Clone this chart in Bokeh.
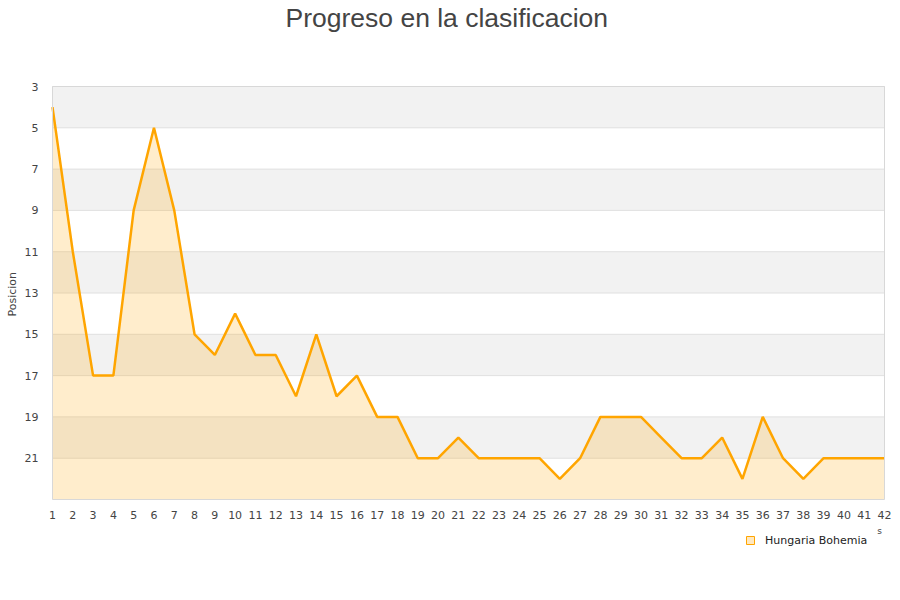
from bokeh.plotting import figure
from bokeh.models import Range1d, FixedTicker, Legend, LegendItem, Title, Label
from bokeh.embed import file_html
from bokeh.resources import INLINE

# jornadas y posicion en la tabla
jornadas = list(range(1, 43))
posicion = [4, 11, 17, 17, 9, 5, 9, 15, 16, 14,
            16, 16, 18, 15, 18, 17, 19, 19, 21, 21,
            20, 21, 21, 21, 21, 22, 21, 19, 19, 19,
            20, 21, 21, 20, 22, 19, 21, 22, 21, 21,
            21, 21]
equipo = "Hungaria Bohemia"
titulo = "Progreso en la clasificacion"
eje_y = "Posicion"
y_ticks = [3, 5, 7, 9, 11, 13, 15, 17, 19, 21]
y_top, y_bot = 3, 23

ORANGE = "#FFA500"
TEXT = "#444444"
BORDER = "#D8D8D8"

# zona de datos en pixeles; el marco se alarga para que quepan
# las etiquetas del eje x y la leyenda
PLOT_W, PLOT_H = 832, 413
PAD_L, PAD_R, PAD_T, PAD_B = 5, 8, 1, 60
ux = (jornadas[-1] - jornadas[0]) / PLOT_W
uy = (y_bot - y_top) / PLOT_H
FW, FH = PLOT_W + PAD_L + PAD_R, PLOT_H + PAD_T + PAD_B

p = figure(frame_width=FW, frame_height=FH, output_backend="svg",
           toolbar_location=None,
           x_range=Range1d(jornadas[0] - PAD_L * ux, jornadas[-1] + PAD_R * ux),
           y_range=Range1d(y_bot + PAD_B * uy, y_top - PAD_T * uy))
p.min_border_top = 0
p.min_border_left = 0
p.min_border_right = 4
p.min_border_bottom = 0
p.outline_line_color = None

# bandas grises alternas (3-5, 7-9, ...)
band_mid = [t + 1 for t in y_ticks[::2]]
p.hbar(y=band_mid, height=2, left=jornadas[0], right=jornadas[-1],
       fill_color="#F2F2F2", line_color="#E0E0E0", line_width=1)

p.varea(x=jornadas, y1=posicion, y2=y_bot, fill_color=ORANGE, fill_alpha=0.2)
p.line(jornadas, posicion, line_color=ORANGE, line_width=2.5)
p.quad(left=[jornadas[0]], right=[jornadas[-1]], top=[y_top], bottom=[y_bot],
       fill_color=None, line_color=BORDER, line_width=1)
# solo para la muestra de la leyenda (tamano 0 en el grafico)
muestra = p.scatter(x=jornadas[:1], y=posicion[:1], marker="square", size=0,
                    fill_color=ORANGE, fill_alpha=0.25, line_color=ORANGE,
                    line_width=1)

p.xgrid.grid_line_color = None
p.ygrid.grid_line_color = None

p.xaxis.ticker = FixedTicker(ticks=jornadas)
p.xaxis.fixed_location = y_bot
p.yaxis.ticker = FixedTicker(ticks=y_ticks)
for ax in (p.xaxis, p.yaxis):
    ax.major_tick_line_color = None
    ax.minor_tick_line_color = None
    ax.axis_line_color = None
    ax.major_label_text_font = "DejaVu Sans"
    ax.major_label_text_font_size = "11px"
    ax.major_label_text_color = TEXT
p.yaxis.major_label_standoff = 3
p.xaxis.major_label_standoff = 5

# titulo del eje y, centrado sobre la zona de datos
p.add_layout(Title(text=eje_y, align="left", offset=PAD_B + PLOT_H // 2 - 23,
                   standoff=6, text_font="DejaVu Sans", text_font_size="11px",
                   text_font_style="normal", text_color=TEXT), "left")

# espacio entre titulo y grafico, luego el titulo
p.add_layout(Title(text=" ", text_font_size="2px", standoff=49), "above")
p.add_layout(Title(text=titulo, align="left", offset=238, standoff=0,
                   text_font="Liberation Sans", text_font_size="26.5px",
                   text_font_style="normal", text_color=TEXT), "above")

# resto del titulo del eje x, cortado en el original
p.add_layout(Label(x=FW - PAD_R - 5, y=29, x_units="screen", y_units="screen",
                   text="s", text_align="center", text_baseline="middle",
                   text_font="DejaVu Sans", text_font_size="9px", text_color=TEXT))

legend = Legend(items=[LegendItem(label=equipo, renderers=[muestra])],
                location=(FW - PAD_R - 144, 9), orientation="horizontal",
                border_line_color=None, background_fill_alpha=0,
                label_text_font="DejaVu Sans", label_text_font_size="11px",
                label_text_color="#222222", glyph_width=20, glyph_height=20,
                label_standoff=5, padding=4, margin=0)
p.add_layout(legend)

open("out.html", "w").write(file_html(p, INLINE))
